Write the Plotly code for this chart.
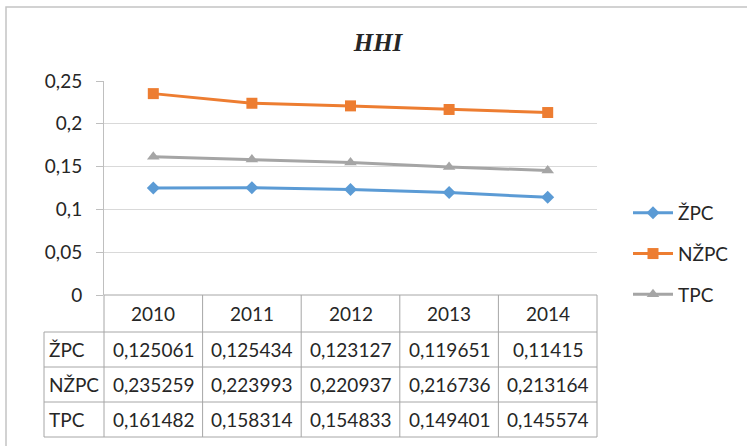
import plotly.graph_objects as go

years = ["2010", "2011", "2012", "2013", "2014"]
series_names = ["ŽPC", "NŽPC", "TPC"]
zpc = [0.125061, 0.125434, 0.123127, 0.119651, 0.11415]
nzpc = [0.235259, 0.223993, 0.220937, 0.216736, 0.213164]
tpc = [0.161482, 0.158314, 0.154833, 0.149401, 0.145574]
y_tickvals = [0, 0.05, 0.1, 0.15, 0.2, 0.25]
y_ticktext = ["0", "0,05", "0,1", "0,15", "0,2", "0,25"]

series_values = [zpc, nzpc, tpc]
colors = ["#5b9bd5", "#ed7d31", "#a5a5a5"]
symbols = ["diamond", "square", "triangle-up"]
msizes = [10, 11, 11]

W, H = 747, 446
L, R, T, B = 104, 150, 81, 151
plot_h = H - T - B
FONT = "Lato"
TXT = "#262626"

def py(px):
    # pixel row -> paper y
    return (H - B - px) / plot_h

def pxx(px):
    return (px - L) / (W - L - R)

fig = go.Figure()
for i, (name, vals) in enumerate(zip(series_names, series_values)):
    fig.add_trace(go.Scatter(
        x=years, y=vals, name=name, mode="lines+markers",
        line=dict(color=colors[i], width=3),
        marker=dict(symbol=symbols[i], size=msizes[i], color=colors[i]),
        legendgroup=name,
    ))

shapes = []
annotations = []
grid_col = "#a6a6a6"
row_lines = [py(332), py(367), py(402), py(437)]
ncat = len(years)
# header vertical lines (category boundaries)
for i in range(ncat + 1):
    shapes.append(dict(type="line", xref="paper", yref="paper",
                       x0=i / ncat, x1=i / ncat, y0=0, y1=row_lines[-1],
                       line=dict(color=grid_col, width=1)))
label_x = pxx(44)
# horizontal lines
shapes.append(dict(type="line", xref="paper", yref="paper", x0=0, x1=1,
                   y0=0, y1=0, line=dict(color=grid_col, width=1)))
for yl in row_lines:
    shapes.append(dict(type="line", xref="paper", yref="paper", x0=label_x, x1=1,
                       y0=yl, y1=yl, line=dict(color=grid_col, width=1)))
shapes.append(dict(type="line", xref="paper", yref="paper", x0=label_x, x1=label_x,
                   y0=row_lines[0], y1=row_lines[-1], line=dict(color=grid_col, width=1)))
# chart border
shapes.append(dict(type="rect", xref="paper", yref="paper", x0=pxx(6), x1=pxx(780),
                   y0=py(470), y1=py(7), line=dict(color="#c4c4c4", width=1.5)))

# header years
for i, yr in enumerate(years):
    annotations.append(dict(x=i, xref="x", y=(0 + row_lines[0]) / 2, yref="paper",
                            text=yr, showarrow=False, yanchor="middle",
                            font=dict(family=FONT, size=19, color=TXT)))
for r, (name, vals) in enumerate(zip(series_names, series_values)):
    yc = (row_lines[r] + row_lines[r + 1]) / 2
    annotations.append(dict(x=pxx(47), xref="paper", y=yc, yref="paper", text=name,
                            showarrow=False, xanchor="left", yanchor="middle",
                            font=dict(family=FONT, size=19, color=TXT)))
    for i, yr in enumerate(years):
        annotations.append(dict(x=i, xref="x", y=yc, yref="paper",
                                text=str(vals[i]).replace(".", ","), showarrow=False,
                                yanchor="middle",
                                font=dict(family=FONT, size=19, color=TXT)))

fig.update_layout(
    width=W, height=H,
    margin=dict(l=L, r=R, t=T, b=B),
    paper_bgcolor="white", plot_bgcolor="white",
    font=dict(family=FONT, size=19, color=TXT),
    title=dict(text="<b><i>HHI</i></b>", x=pxx(378), xref="paper", xanchor="center",
               y=1 - 42 / H, yref="container", yanchor="middle",
               font=dict(family="Liberation Serif", size=25, color=TXT)),
    xaxis=dict(type="category", range=[-0.5, 4.5], showticklabels=False,
               showgrid=False, zeroline=False, showline=False, ticks=""),
    yaxis=dict(range=[0, 0.25], tickvals=y_tickvals, ticktext=y_ticktext,
               showgrid=True, gridcolor="#d9d9d9", gridwidth=1, zeroline=False,
               showline=True, linecolor="#bfbfbf", linewidth=1,
               ticks="outside", ticklen=7, tickcolor="#bfbfbf", ticklabelstandoff=10,
               tickfont=dict(family=FONT, size=19, color=TXT)),
    showlegend=True,
    legend=dict(x=pxx(628), xanchor="left", y=py(194), yanchor="top",
                font=dict(family=FONT, size=19, color=TXT),
                tracegroupgap=13, itemwidth=40, bgcolor="rgba(0,0,0,0)"),
    shapes=shapes, annotations=annotations,
)
fig.write_html("out.html", config={"displayModeBar": False},
               post_script="document.body.style.margin='0px';")
